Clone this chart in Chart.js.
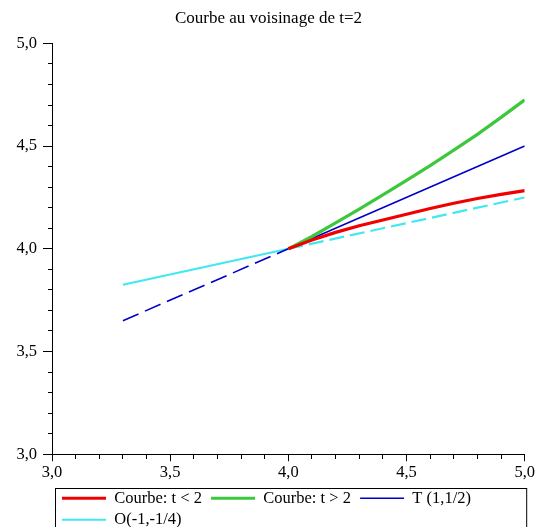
<!DOCTYPE html>
<html>
<head>
<meta charset="utf-8">
<script src="https://cdn.jsdelivr.net/npm/chart.js@4"></script>
<style>
  html, body { margin: 0; padding: 0; background: #fff; overflow: hidden; }
  #wrap { width: 537px; height: 538px; position: relative; }
</style>
</head>
<body>
<div id="wrap"><canvas id="chart"></canvas></div>
<script>
// --- donnees ---
const xCourbe = [4.0, 4.1, 4.2, 4.3, 4.4, 4.5, 4.6, 4.7, 4.8, 4.9, 5.0];
const yAvant = [4.0, 4.043, 4.08, 4.112, 4.14, 4.168, 4.196, 4.222, 4.245, 4.265, 4.283];  // t < 2
const yApres = [4.0, 4.06, 4.126, 4.193, 4.262, 4.333, 4.405, 4.48, 4.557, 4.64, 4.725];   // t > 2
const xDroites = [3.3, 4.0, 5.0];
const yTangente = [3.65, 4.0, 4.5];     // T (1,1/2)
const yAutre = [3.825, 4.0, 4.25];      // O(-1,-1/4)
const labels = ['Courbe: t < 2', 'Courbe: t > 2', 'T (1,1/2)', 'O(-1,-1/4)'];

const pts = (xs, ys) => xs.map((x, i) => ({ x: x, y: ys[i] }));
const fmt = v => v.toFixed(1).replace('.', ',');
const isMajor = v => Math.round(v * 10) % 5 === 0;
const serif = '"Liberation Serif", "Times New Roman", serif';

// cadre autour de la legende, premiere entree decalee comme dans Maple
const legendBox = {
    id: 'legendBox',
    afterLayout(chart) {
        chart.legend.left = chart.chartArea.left + 5;
    },
    afterDraw(chart) {
        const l = chart.legend;
        const ctx = chart.ctx;
        ctx.save();
        ctx.strokeStyle = '#000';
        ctx.lineWidth = 1;
        const x0 = Math.round(chart.chartArea.left) + 3.5;
        ctx.strokeRect(x0, Math.round(l.top) + 3.5, chart.chartArea.right + 2 - x0, 80);
        ctx.restore();
    }
};

// graduations: longues pour les valeurs etiquetees, courtes sinon
const tickDashX = c => (c.tick && isMajor(c.tick.value)) ? [] : [4, 100];
const tickDashY = c => (c.tick && isMajor(c.tick.value)) ? [] : [0, 5, 4, 100];

new Chart(document.getElementById('chart'), {
    type: 'line',
    data: {
        datasets: [
            {
                label: labels[0] + ' ',
                data: pts(xCourbe, yAvant),
                borderColor: 'rgb(240,0,0)',
                borderWidth: 3.2
            },
            {
                label: labels[1] + ' ',
                data: pts(xCourbe, yApres),
                borderColor: 'rgb(60,200,60)',
                borderWidth: 3.2
            },
            {
                label: labels[2],
                data: pts(xDroites, yTangente),
                borderColor: 'rgb(0,0,200)',
                borderWidth: 1.6,
                segment: { borderDash: c => c.p1.parsed.x <= 4 ? [17, 7] : undefined }
            },
            {
                label: labels[3],
                data: pts(xDroites, yAutre),
                borderColor: 'rgb(64,232,240)',
                borderWidth: 2.2,
                segment: { borderDash: c => c.p0.parsed.x >= 4 ? [15, 6] : undefined }
            }
        ]
    },
    options: {
        responsive: true,
        maintainAspectRatio: false,
        animation: false,
        layout: { padding: { top: 2, right: 0, bottom: 0, left: 0 } },
        elements: {
            point: { radius: 0 },
            line: { tension: 0, fill: false }
        },
        scales: {
            x: {
                type: 'linear',
                min: 3, max: 5,
                border: { color: '#000', width: 1 },
                grid: {
                    drawOnChartArea: false, drawTicks: true, tickLength: 7,
                    color: '#000', tickBorderDash: tickDashX
                },
                ticks: {
                    stepSize: 0.1,
                    autoSkip: false,
                    maxRotation: 0,
                    padding: 2,
                    color: '#000',
                    font: { family: serif, size: 16.5 },
                    callback: v => isMajor(v) ? fmt(v) : ''
                }
            },
            y: {
                type: 'linear',
                min: 3, max: 5,
                border: { color: '#000', width: 1 },
                grid: {
                    drawOnChartArea: false, drawTicks: true, tickLength: 9,
                    color: '#000', tickBorderDash: tickDashY
                },
                ticks: {
                    stepSize: 0.1,
                    autoSkip: false,
                    padding: 6,
                    color: '#000',
                    font: { family: serif, size: 16.5 },
                    callback: v => isMajor(v) ? fmt(v) : ''
                },
                afterFit: s => { s.width = 52; }
            }
        },
        plugins: {
            title: {
                display: true,
                text: 'Courbe au voisinage de t=2',
                color: '#000',
                font: { family: serif, size: 17, weight: 'normal' },
                padding: { top: 6, bottom: 15 }
            },
            legend: {
                position: 'bottom',
                align: 'start',
                fullSize: false,
                labels: {
                    color: '#000',
                    font: { family: serif, size: 16.5 },
                    usePointStyle: true,
                    pointStyle: 'line',
                    pointStyleWidth: 44,
                    padding: 5
                }
            },
            tooltip: { enabled: false }
        }
    },
    plugins: [legendBox]
});
</script>
</body>
</html>
